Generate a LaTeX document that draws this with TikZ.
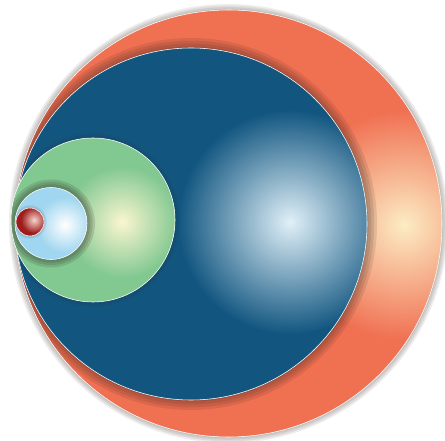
\documentclass[tikz,border=0pt]{standalone}
\usepackage{xcolor}
\usepackage{tikz}

\definecolor{ringorange}{RGB}{240,112,82}
\definecolor{ringorangehi}{RGB}{252,236,196}
\definecolor{seablue}{RGB}{18,86,128}
\definecolor{seabluehi}{RGB}{224,240,248}
\definecolor{leafgreen}{RGB}{130,200,145}
\definecolor{leafgreenhi}{RGB}{250,246,208}
\definecolor{skyblue}{RGB}{160,214,240}
\definecolor{skybluehi}{RGB}{255,255,255}
\definecolor{corered}{RGB}{158,28,28}
\definecolor{coreredhi}{RGB}{246,214,204}
\definecolor{shadowtone}{RGB}{40,30,25}

\begin{document}
\begin{tikzpicture}[
    x=0.5mm, y=0.5mm,
    rim/.style={draw=white, line width=0.8pt},
    haze/.style={fill=shadowtone, fill opacity=#1},
    haze/.default=0.06
]
\useasboundingbox (0,0) rectangle (445,441);
\fill[white] (0,0) rectangle (445,441);

\coordinate (outer) at (228.5,217.5);
\coordinate (outerhi) at (404,216);
\coordinate (sea) at (191,217);
\coordinate (seahi) at (290,219);
\coordinate (leaf) at (93,221);
\coordinate (leafhi) at (122,219);
\coordinate (sky) at (51,217.5);
\coordinate (skyhi) at (65,216);
\coordinate (core) at (30,219);
\coordinate (corehi) at (34,221);

\foreach \k in {0,...,9}
    \fill[haze=0.08, shift={(10,4)}] (outer) circle (213.5+6-1.6*\k);
\fill[ringorange] (outer) circle (213.5);
\begin{scope}
    \clip (outer) circle (213.5);
    \shade[inner color=ringorangehi, outer color=ringorange] (outerhi) circle (115);
    \foreach \k in {0,...,9}
        \fill[haze=0.11, shift={(16,0)}] (sea) circle (176+10-2.8*\k);
\end{scope}
\draw[rim] (outer) circle (213.5);

\fill[seablue] (sea) circle (176);
\begin{scope}
    \clip (sea) circle (176);
    \shade[inner color=seabluehi, outer color=seablue] (seahi) circle (112);
    \foreach \k in {0,...,9}
        \fill[haze=0.05, shift={(9,0)}] (leaf) circle (82+5-1.6*\k);
\end{scope}
\draw[rim] (sea) circle (176);

\fill[leafgreen] (leaf) circle (82);
\begin{scope}
    \clip (leaf) circle (82);
    \shade[inner color=leafgreenhi, outer color=leafgreen] (leafhi) circle (56);
    \foreach \k in {0,...,9}
        \fill[haze=0.14, shift={(18,0)}] (sky) circle (36+8-2.4*\k);
\end{scope}
\draw[rim] (leaf) circle (82);

\fill[skyblue] (sky) circle (36);
\begin{scope}
    \clip (sky) circle (36);
    \shade[inner color=skybluehi, outer color=skyblue] (skyhi) circle (28);
    \foreach \k in {0,...,9}
        \fill[haze=0.04, shift={(4,0)}] (core) circle (14+3-0.7*\k);
\end{scope}
\draw[rim] (sky) circle (36);

\fill[corered] (core) circle (14);
\begin{scope}
    \clip (core) circle (14);
    \shade[inner color=coreredhi, outer color=corered] (corehi) circle (13);
\end{scope}
\draw[rim] (core) circle (14);
\end{tikzpicture}
\end{document}
